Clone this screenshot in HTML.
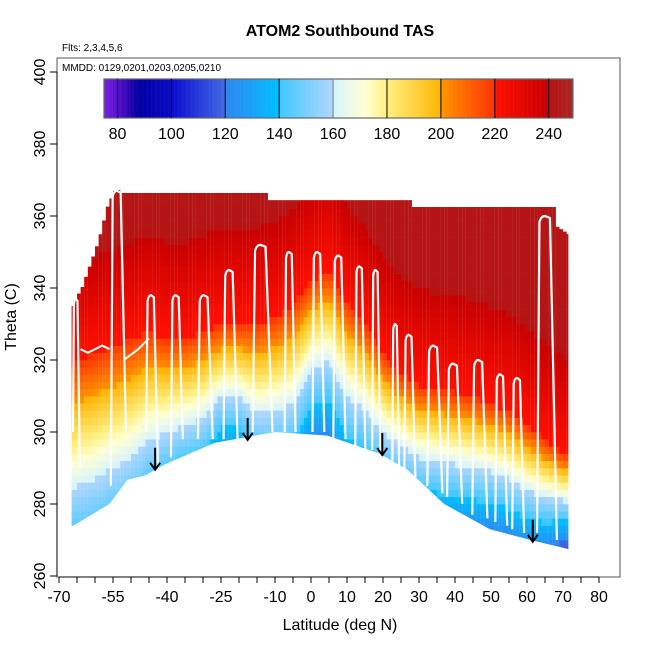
<!DOCTYPE html>
<html><head><meta charset="utf-8"><style>
body{margin:0;background:#fff;}
svg{display:block;font-family:"Liberation Sans",sans-serif;}
</style></head><body>
<svg id="chart" width="650" height="650" viewBox="0 0 650 650" xmlns="http://www.w3.org/2000/svg">
<text x="340" y="36" text-anchor="middle" font-size="16" font-weight="bold">ATOM2 Southbound TAS</text>
<text x="62" y="51" font-size="10">Flts: 2,3,4,5,6</text>
<g id="heat"></g>
<g id="tracks"></g>
<g id="arrows"></g>
<rect x="57" y="58" width="563" height="519" fill="none" stroke="#555" stroke-width="1"/>
<text x="62" y="71" font-size="10">MMDD: 0129,0201,0203,0205,0210</text>
<g id="cbar"></g>
<g id="axes"></g>
<text x="340" y="630" text-anchor="middle" font-size="16">Latitude (deg N)</text>
<text transform="translate(16,317) rotate(-90)" text-anchor="middle" font-size="16">Theta (C)</text>
</svg>
<script>
// ---- data ----
const bottomLat = [-66.5,-66,-56,-51,-46,-40.6,-26.7,-10,4.6,19,26.8,37,49.7,61,71.5];
const bottomTheta = [274,274,280,286.7,288,291,297,300,299,294,289.5,280,273,270,267.5];
const topLat = [-66.5,-63.6,-59,-56.4,-54,-53,-12,-11.9,28,28.1,68,68.5,71.5];
const topTheta = [335,340,353,363,368,366.4,366.4,364.4,364.4,362.5,362.5,357,355];
const profLat = [-68,-60,-50,-45,-40,-35,-30,-25,-20,-15,-10,-5,0,5,10,15,20,25,30,35,40,45,50,55,60,65,70];
const theta160 = [284,287,293,298,300,302,304,310,310,305,306,308,318,320,310,306,300,296,293,292,291,290,289,287,284,282,281];
const theta220 = [318,322,326,328,326,326,328,330,330,330,332,335,342,345,336,330,322,316,313,312,311,310,308,306,302,298,294];
// profiles: [latLeft, latRight, topTheta, bottomLeftTheta, bottomRightTheta]
const profileLeft = [-66.1,-55.6,-45.8,-38.9,-31.4,-24.3,-16.2,-7.3,0.4,6.2,12.3,17,22.6,25.9,32.3,37.8,44.8,51.2,55.9,62.8];
const profileRight = [-64.2,-51.4,-42.5,-35.6,-27.3,-20.4,-10.7,-4.3,3.7,9.6,15.1,19.3,24.5,29,36.5,42,49,54.5,59.2,68.3];
const profileTop = [337,367,338,338,338,345,352,350,350,349,346,345,330,327,324,319,320,316,315,360];
const profileBotL = [300,285,300,293,298,298,300,300,300,298,296,295,292,289,285,282,277,275,273,272];
const profileBotR = [290,300,290,298,298,298,300,300,300,298,295,293,290,287,283,280,276,274,272,270];
const arrowLat = [-43.3,-17.6,19.8,61.6];
const arrowTheta = [289.5,297.8,293.6,269.5];
const xTicks = [-70,-55,-40,-25,-10,0,10,20,30,40,50,60,70,80];
const yTicks = [260,280,300,320,340,360,380,400];
const cbTicks = [80,100,120,140,160,180,200,220,240];
// ---- scales ----
const X = lat => 311 + 3.6*lat;
const Y = th => 576 - (th-260)*3.6;
const CX = v => 104 + (v-75)*2.695;
const NS = "http://www.w3.org/2000/svg";
function mk(tag, attrs, parent){const e=document.createElementNS(NS,tag);for(const k in attrs)e.setAttribute(k,attrs[k]);parent.appendChild(e);return e;}
function interp(xs, ys, x){if(x<=xs[0])return ys[0];for(let i=1;i<xs.length;i++){if(x<=xs[i]){const t=(x-xs[i-1])/(xs[i]-xs[i-1]);return ys[i-1]+t*(ys[i]-ys[i-1]);}}return ys[ys.length-1];}
const stops=[[75,[122,31,232]],[82,[70,10,190]],[88,[0,0,160]],[99.9,[10,10,200]],[100,[10,10,210]],[119.9,[65,105,225]],[120,[46,134,240]],[139.9,[0,191,255]],[140,[60,200,255]],[159.9,[176,214,255]],[160,[214,244,255]],[172,[255,255,210]],[180,[255,240,130]],[199.9,[255,180,0]],[200,[255,150,0]],[219.9,[255,50,0]],[220,[255,16,0]],[239.9,[200,0,0]],[240,[185,16,16]],[250,[165,42,42]]];
function col(v){v=Math.max(75,Math.min(250,v));for(let i=1;i<stops.length;i++){if(v<=stops[i][0]){const a=stops[i-1],b=stops[i];const t=(v-a[0])/(b[0]-a[0]||1);const c=a[1].map((q,j)=>Math.round(q+t*(b[1][j]-q)));return `rgb(${c[0]},${c[1]},${c[2]})`;}}return 'rgb(165,42,42)';}
// ---- heatmap ----
const heat=document.getElementById('heat');
const defs=mk('defs',{},heat);
const cp=mk('clipPath',{id:'bclip'},defs);
let pts=[];
for(let i=0;i<topLat.length;i++)pts.push(X(topLat[i])+','+(Y(topTheta[i])-8));
pts.push(X(71.5)+','+Y(bottomTheta[bottomTheta.length-1]));
for(let i=bottomLat.length-1;i>=0;i--)pts.push(X(bottomLat[i])+','+Y(bottomTheta[i]));
mk('polygon',{points:pts.join(' ')},cp);
const hg=mk('g',{'clip-path':'url(#bclip)'},heat);
for(let lat=-67;lat<72;lat+=1){
  const lc=lat+0.5;
  const bt=interp(bottomLat,bottomTheta,lc), tt=interp(topLat,topTheta,lc);
  const t1=interp(profLat,theta160,lc), t2=interp(profLat,theta220,lc);
  const k=60/(t2-t1);
  const th0=Math.floor((bt-4)/2)*2;
  for(let th=th0;th<tt;th+=2){
    const tm=th+1;
    let v = tm<t1 ? 160+(tm-t1)*k*0.75 : (tm<t2 ? 160+(tm-t1)*k : 220+(tm-t2)*0.75);
    v=Math.max(100,Math.min(242,v));
    const top=Math.min(th+2,tt);
    const r=mk('rect',{x:X(lat),y:Y(top),width:3.7,height:Y(th)-Y(top)+0.3,fill:col(v)},hg);
    
    
  }
}
// ---- tracks ----
const tr=document.getElementById('tracks');
for(let i=0;i<profileLeft.length;i++){
  const l=profileLeft[i],r=profileRight[i],w=r-l;
  const d=`M${X(l)},${Y(profileBotL[i])} L${X(l+w*0.12)},${Y(profileTop[i])+6} Q${X(l+w*0.2)},${Y(profileTop[i])} ${X(l+w*0.4)},${Y(profileTop[i])} L${X(l+w*0.65)},${Y(profileTop[i])+2} L${X(r)},${Y(profileBotR[i])}`;
  const p=mk('path',{d:d,fill:'none',stroke:'#fff','stroke-width':2.2,'stroke-linejoin':'round'},tr);
  
  
}
const z1=mk('polyline',{points:`${X(-64)},${Y(323)} ${X(-62)},${Y(322)} ${X(-60)},${Y(323)} ${X(-58)},${Y(324)} ${X(-56)},${Y(323)}`,fill:'none',stroke:'#fff','stroke-width':2},tr);


const z2=mk('polyline',{points:`${X(-52)},${Y(320)} ${X(-48)},${Y(323)} ${X(-45)},${Y(326)}`,fill:'none',stroke:'#fff','stroke-width':2},tr);


// ---- arrows ----
const ar=document.getElementById('arrows');
for(let i=0;i<arrowLat.length;i++){
  const x=X(arrowLat[i]),y=Y(arrowTheta[i]);
  const g=mk('g',{},ar);
  
  
  mk('line',{x1:x,y1:y-22,x2:x,y2:y,stroke:'#000','stroke-width':2},g);
  mk('polyline',{points:`${x-5},${y-7} ${x},${y} ${x+5},${y-7}`,fill:'none',stroke:'#000','stroke-width':2},g);
}
// ---- colorbar ----
const cb=document.getElementById('cbar');
for(let v=75;v<249;v+=0.5){
  const r=mk('rect',{x:CX(v),y:79,width:1.6,height:39,fill:col(v+0.25)},cb);
  
  
}
mk('rect',{x:CX(75),y:79,width:CX(249)-CX(75),height:39,fill:'none',stroke:'#666','stroke-width':1.2},cb);
cbTicks.forEach(v=>{
  mk('line',{x1:CX(v),y1:79,x2:CX(v),y2:118,stroke:v===160?'#777':'#000','stroke-width':1},cb);
  const t=mk('text',{x:CX(v),y:139,'text-anchor':'middle','font-size':16},cb);
  t.textContent=v;
  
  
});
// ---- axes ----
const ax=document.getElementById('axes');
mk('line',{x1:X(-70),y1:577,x2:X(80),y2:577,stroke:'#000'},ax);
for(let v=-70;v<=80;v+=5)mk('line',{x1:X(v),y1:577,x2:X(v),y2:583,stroke:'#000'},ax);
xTicks.forEach(v=>{
  const t=mk('text',{x:X(v),y:602,'text-anchor':'middle','font-size':16},ax);
  t.textContent=v;
  
  
});
mk('line',{x1:57,y1:Y(260),x2:57,y2:Y(400),stroke:'#000'},ax);
yTicks.forEach(v=>{
  mk('line',{x1:50,y1:Y(v),x2:57,y2:Y(v),stroke:'#000'},ax);
  const t=mk('text',{transform:`translate(45,${Y(v)}) rotate(-90)`,'text-anchor':'middle','font-size':16},ax);
  t.textContent=v;
  
  
});
</script>
</body></html>
